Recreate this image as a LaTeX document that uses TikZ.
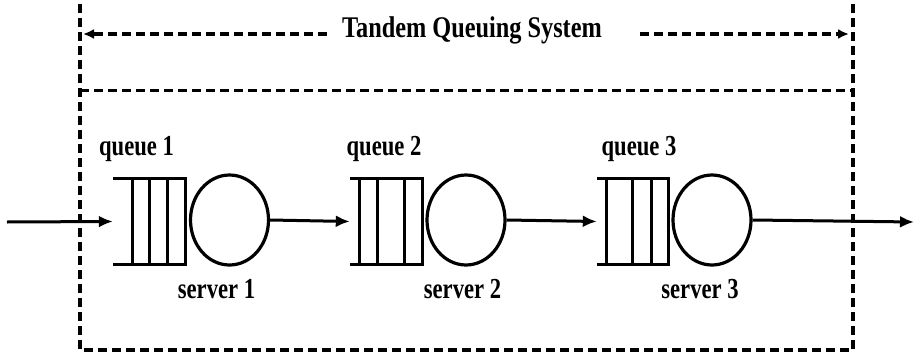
\documentclass[tikz,border=0pt]{standalone}
\usepackage{fontspec}
\setmainfont{Liberation Serif}[FakeStretch=0.78]
\newfontfamily\titlefont{Liberation Serif}[FakeStretch=0.81]
\usetikzlibrary{arrows.meta,shapes.geometric}
\begin{document}
\begin{tikzpicture}[x=1pt,y=-1pt,
  dbox/.style={line width=3.2pt, dash pattern=on 9pt off 5pt},
  tarrow/.style={line width=3.2pt, dash pattern=on 9pt off 5pt, -{Latex[length=11pt,width=10pt]}},
  conn/.style={line width=3pt, -{Latex[length=14pt,width=12pt]}},
  qline/.style={line width=3pt},
  server/.style={ellipse, draw, line width=3.2pt, minimum width=78pt, minimum height=90pt, inner sep=0pt},
  qbox/.style={rectangle, inner sep=0pt, minimum width=72pt, minimum height=85pt},
  lab/.style={font=\bfseries\fontsize{29}{29}\selectfont, anchor=base, inner sep=0pt},
  ttl/.style={font=\titlefont\bfseries\fontsize{30}{30}\selectfont, anchor=base, inner sep=0pt},
]
\useasboundingbox (0,0) rectangle (915,356);

% dashed frame
\coordinate (tl) at (80,4);
\coordinate (tr) at (853,4);
\coordinate (bl) at (80,350);
\coordinate (br) at (853,350);
\coordinate (ml) at (80,90.5);
\coordinate (mr) at (853,90.5);
\draw[dbox] (tl) -- (bl) -- (br) -- (tr);
\draw[dbox] (ml) -- (mr);

% title
\node[ttl] (title) at (472,37) {Tandem Queuing System};
\coordinate (tal) at (83,34);
\coordinate (tas) at (327,34);
\coordinate (tbs) at (640,34);
\coordinate (tbr) at (849,34);
\draw[tarrow] (tas) -- (tal);
\draw[tarrow] (tbs) -- (tbr);

% queues
\node[qbox] (q1) at (149,221.5) {};
\node[qbox] (q2) at (386,221.5) {};
\node[qbox, minimum width=71pt] (q3) at (632.5,221.5) {};
\foreach \q/\a/\b/\c in {q1/20/37/55, q2/10/28/55, q3/10/36/55}{
  \draw[qline] (\q.north west) -- (\q.north east) -- (\q.south east) -- (\q.south west);
  \draw[qline] ([xshift=\a pt]\q.north west) -- ([xshift=\a pt]\q.south west);
  \draw[qline] ([xshift=\b pt]\q.north west) -- ([xshift=\b pt]\q.south west);
  \draw[qline] ([xshift=\c pt]\q.north west) -- ([xshift=\c pt]\q.south west);
}

% servers
\node[server] (s1) at (229.5,220) {};
\node[server] (s2) at (466,220) {};
\node[server] (s3) at (712,220) {};

% labels
\node[lab] (ql1) at (136.5,155) {queue 1};
\node[lab] (ql2) at (384,155) {queue 2};
\node[lab] (ql3) at (639,155) {queue 3};
\node[lab] (sl1) at (216.5,298) {server 1};
\node[lab] (sl2) at (462.5,298) {server 2};
\node[lab] (sl3) at (700,298) {server 3};

% flow
\coordinate (in) at (7,222);
\coordinate (out) at (914,222);
\draw[conn] (in) -- (q1.west);
\draw[conn] (s1.east) -- (q2.west);
\draw[conn] (s2.east) -- (q3.west);
\draw[conn] (s3.east) -- (out);
\end{tikzpicture}
\end{document}
